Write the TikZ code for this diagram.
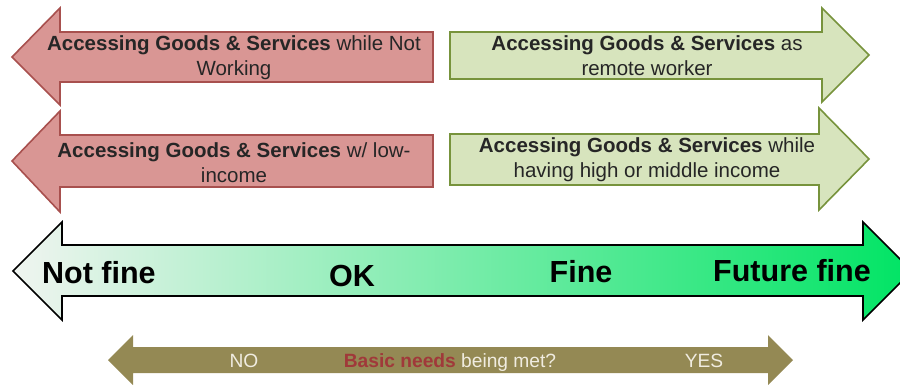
\documentclass[tikz,border=0pt]{standalone}
\usepackage{fontspec}
\setmainfont{Liberation Sans}
\usepackage{tikz}
\usetikzlibrary{positioning}
\definecolor{redfill}{RGB}{217,150,148}
\definecolor{redline}{RGB}{168,80,78}
\definecolor{greenfill}{RGB}{215,228,189}
\definecolor{greenline}{RGB}{119,147,60}
\definecolor{olive}{RGB}{148,137,84}
\definecolor{needsred}{RGB}{160,57,58}
\definecolor{paletext}{RGB}{240,236,224}
\definecolor{scaleleft}{RGB}{240,244,240}
\definecolor{scalemid}{RGB}{140,236,180}
\definecolor{scaleright}{RGB}{0,228,100}
\tikzset{%
  redarrow/.style={%
    draw=redline,
    fill=redfill,
    line width=1.6pt,
    line join=miter
  },
  greenarrow/.style={%
    draw=greenline,
    fill=greenfill,
    line width=1.6pt,
    line join=miter
  },
  boxtext/.style={%
    align=center,
    text=black!85,
    font=\fontsize{20.5}{25}\selectfont
  },
  scaletext/.style={%
    font=\fontsize{30.5}{34}\bfseries\selectfont,
    inner sep=0pt
  },
  needtext/.style={%
    font=\fontsize{19.2}{22}\selectfont,
    text=paletext,
    inner sep=0pt
  }
}

\begin{document}
\begin{tikzpicture}[x=1pt,y=-1pt]
    \useasboundingbox (0,0) rectangle (900,384);

    % left arrows
    \filldraw[redarrow] (12,57) -- (60,8) -- (60,32) -- (433,32)
      -- (433,82) -- (60,82) -- (60,105) -- cycle;
    \node[boxtext] (notwork) at (234,58)
      {\textbf{Accessing Goods \& Services} while Not\\Working};

    \filldraw[redarrow] (12,161) -- (60,111) -- (60,135) -- (433,135)
      -- (433,187) -- (60,187) -- (60,212) -- cycle;
    \node[boxtext] (lowinc) at (234,163)
      {\textbf{Accessing Goods \& Services} w/ low-\\income};

    % right arrows
    \filldraw[greenarrow] (450,32) -- (822,32) -- (822,8) -- (869,55)
      -- (822,102) -- (822,79) -- (450,79) -- cycle;
    \node[boxtext] (remote) at (647,56)
      {\textbf{Accessing Goods \& Services} as\\remote worker};

    \filldraw[greenarrow] (450,134) -- (819,134) -- (819,108) -- (869,159)
      -- (819,210) -- (819,185) -- (450,185) -- cycle;
    \node[boxtext] (highinc) at (647,160)
      {\textbf{Accessing Goods \& Services} while\\having high or middle income};

    % scale arrow
    \shade[left color=scaleleft, middle color=scalemid, right color=scaleright]
      (13,271) -- (62,222) -- (62,245) -- (863,245) -- (863,222) -- (912,271)
      -- (863,320) -- (863,296) -- (62,296) -- (62,320) -- cycle;
    \draw[line width=1.6pt,line join=miter]
      (13,271) -- (62,222) -- (62,245) -- (863,245) -- (863,222) -- (912,271)
      -- (863,320) -- (863,296) -- (62,296) -- (62,320) -- cycle;
    \node[scaletext,anchor=base west] (notfine) at (42,283) {Not fine};
    \node[scaletext,anchor=base] (ok) at (352,286) {OK};
    \node[scaletext,anchor=base] (fine) at (581,282) {Fine};
    \node[scaletext,anchor=base west] (future) at (713,281) {Future fine};

    % basic needs arrow
    \fill[olive] (108,360) -- (133,335) -- (133,347) -- (768,347) -- (768,335)
      -- (793,360) -- (768,385) -- (768,373) -- (133,373) -- (133,385) -- cycle;
    \node[needtext,anchor=base] (no) at (244,367) {NO};
    \node[needtext,anchor=base] (needs) at (450,367)
      {\textcolor{needsred}{\textbf{Basic needs}} being met?};
    \node[needtext,anchor=base] (yes) at (704,367) {YES};
  \end{tikzpicture}
\end{document}
